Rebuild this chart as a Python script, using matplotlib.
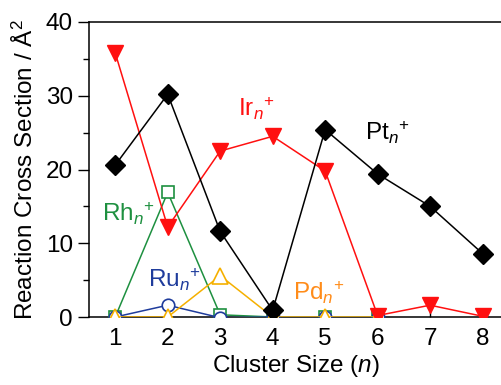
import numpy as np
import matplotlib
matplotlib.use("Agg")
import matplotlib.pyplot as plt

plt.rcParams['font.family'] = ['Liberation Sans', 'DejaVu Sans']
plt.rcParams['mathtext.fontset'] = 'custom'
plt.rcParams['mathtext.rm'] = 'Liberation Sans'
plt.rcParams['mathtext.it'] = 'Liberation Sans:italic'

# cluster sizes
n_all = [1, 2, 3, 4, 5, 6, 7, 8]
n_short = [1, 2, 3, 4, 5, 6]

# reaction cross sections (A^2)
pt = [20.6, 30.2, 11.6, 0.9, 25.4, 19.4, 15.0, 8.6]
ir = [35.8, 12.2, 22.5, 24.5, 19.8, 0.2, 1.6, 0.1]
rh = [0.0, 16.9, 0.3, 0.0, 0.0, 0.0]
ru = [0.0, 1.6, -0.1, 0.0, 0.0, 0.0]
pd = [0.0, 0.0, 5.6, 0.0, 0.0, 0.0]

RED = '#ff1010'
GREEN = '#1e9040'
BLUE = '#1f3c9c'
ORANGE = '#f5b000'
ORANGE_TXT = '#ff8c1a'

fig = plt.figure(figsize=(5.02, 3.85), dpi=100)
ax = fig.add_axes([89/502, 1-317/385, 1-89/502, (317-22)/385])

ax.plot(n_short, rh, '-s', color=GREEN, mfc='white', mec=GREEN, ms=9, lw=1.1, mew=1.2, zorder=3)
ax.plot(n_short, ru, '-o', color=BLUE, mfc='white', mec=BLUE, ms=9, lw=1.1, mew=1.2, zorder=3)
ax.plot(n_short, pd, '-^', color=ORANGE, mfc='white', mec=ORANGE, ms=11, lw=1.1, mew=1.2, zorder=4)
ax.plot(n_all, ir, '-v', color=RED, mfc=RED, mec=RED, ms=11, lw=1.1, zorder=5)
ax.plot(n_all, pt, '-D', color='black', mfc='black', mec='black', ms=10, lw=1.1, zorder=6)

fs = 17.5
ax.text(0.75, 13.0, r'Rh$_{\mathit{n}}{}^{+}$', color=GREEN, fontsize=fs, va='baseline')
ax.text(1.62, 4.07, r'Ru$_{\mathit{n}}{}^{+}$', color=BLUE, fontsize=fs, va='baseline')
ax.text(4.39, 2.3, r'Pd$_{\mathit{n}}{}^{+}$', color=ORANGE_TXT, fontsize=fs, va='baseline')
ax.text(3.34, 27.3, r'Ir$_{\mathit{n}}{}^{+}$', color=RED, fontsize=fs, va='baseline')
ax.text(5.76, 24.0, r'Pt$_{\mathit{n}}{}^{+}$', color='black', fontsize=fs, va='baseline')

ax.set_xlim(0.5, 8.37)
ax.set_ylim(0, 40)
ax.set_xticks(n_all)
ax.set_yticks([0, 10, 20, 30, 40])
ax.set_yticks([5, 15, 25, 35], minor=True)
ax.tick_params(axis='x', direction='in', length=6, width=1, labelsize=fs, pad=8)
ax.tick_params(axis='y', which='major', direction='out', length=8, width=1, labelsize=fs)
ax.tick_params(axis='y', which='minor', direction='out', length=4, width=1)
ax.spines['right'].set_visible(False)
for s in ['left', 'bottom', 'top']:
    ax.spines[s].set_linewidth(1.1)

ax.set_xlabel(r'Cluster Size ($\mathit{n}$)', fontsize=fs, labelpad=2)
ax.set_ylabel('Reaction Cross Section / Å$^2$', fontsize=fs, labelpad=6)

fig.savefig('out.png', dpi=100)
